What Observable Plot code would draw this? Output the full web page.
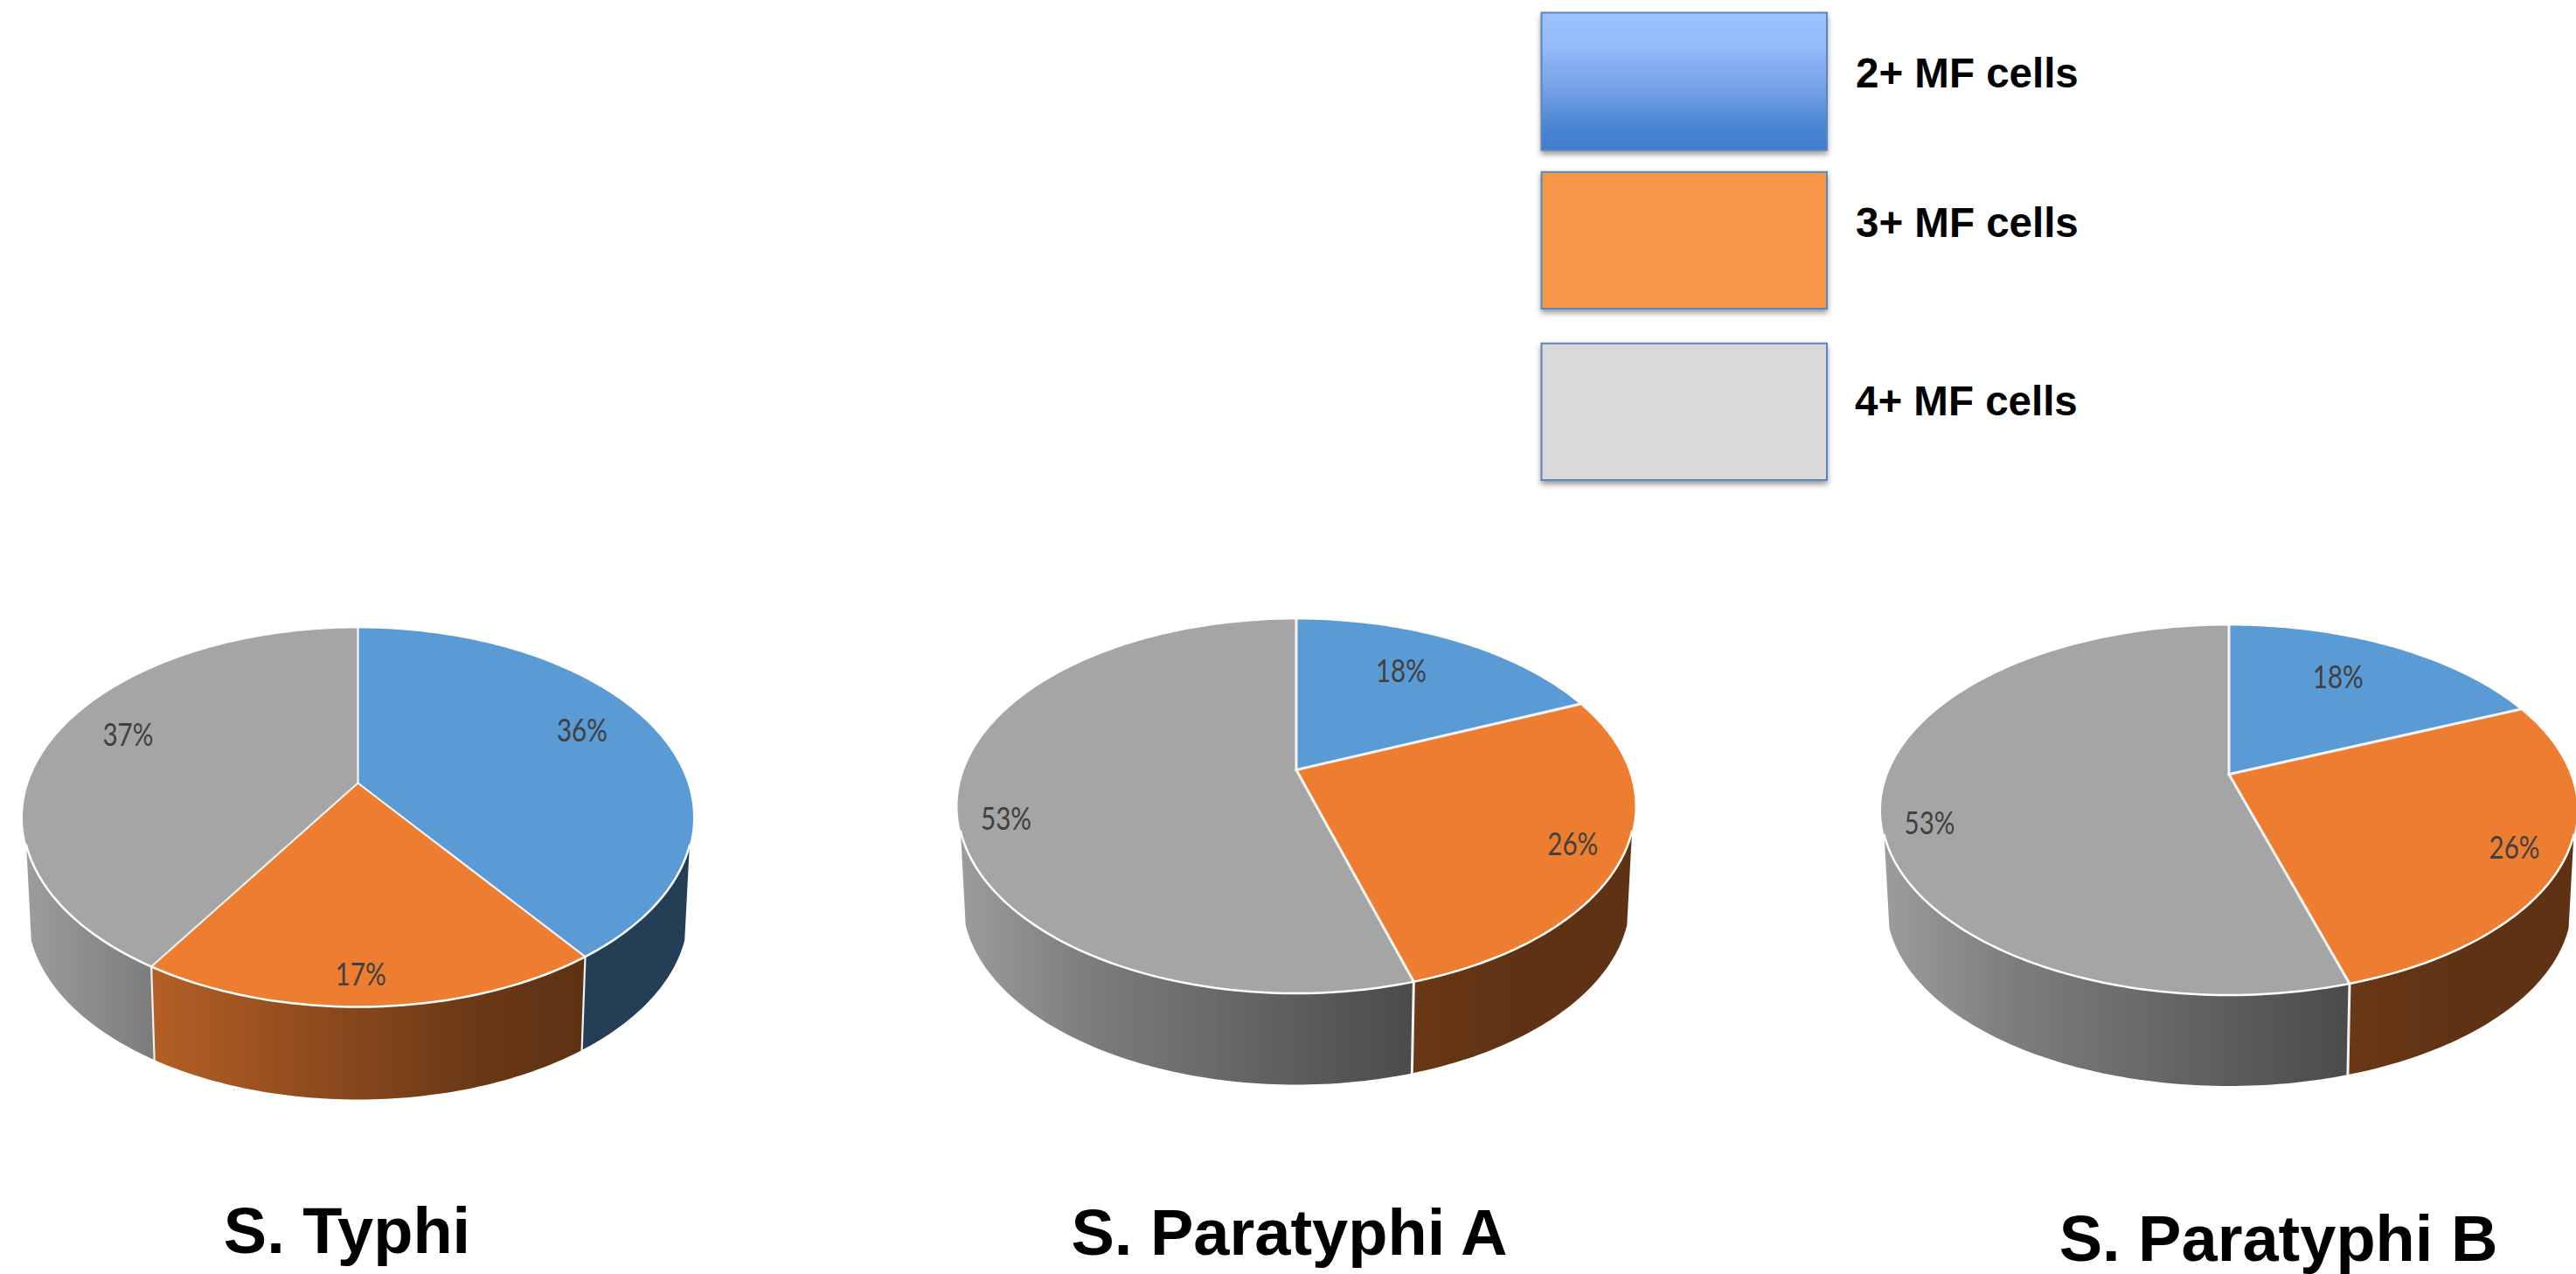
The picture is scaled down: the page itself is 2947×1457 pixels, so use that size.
<!DOCTYPE html>
<html>
<head>
<meta charset="utf-8">
<script src="https://cdn.jsdelivr.net/npm/d3@7"></script>
<script src="https://cdn.jsdelivr.net/npm/@observablehq/plot@0.6"></script>
<style>
  html, body { margin: 0; padding: 0; background: #fff; overflow: hidden; }
  svg { display: block; }
</style>
</head>
<body>
<script>
// Share of MF cell grades for each serovar, as printed on the slices
const categories = ["2+ MF cells", "3+ MF cells", "4+ MF cells"];
const serovars = ["S. Typhi", "S. Paratyphi A", "S. Paratyphi B"];
const typhi = [36, 17, 37];
const paratyphiA = [18, 26, 53];
const paratyphiB = [18, 26, 53];
const percentLabels = [["36%", "17%", "37%"], ["18%", "26%", "53%"], ["18%", "26%", "53%"]];

// Slice colours, one per grade
const sliceColors = ["#5B9BD5", "#ED7D31", "#A5A5A5"];
const swatchFills = ["url(#swatch-blue)", "#F79646", "#D9D9D9"];

const W = 2947, H = 1457;

// Drum geometry. Each disc is a tilted circle seen in perspective, so the
// hub (hubY) sits above the middle of the ellipse.
const drums = [
  {id: "typhi", values: typhi, cx: 409, hubY: 895, rx: 383.5, top: 718, bottom: 1151, base: 1257, seam: 2.2,
   nudges: [[-83, 0], [-13, -38], [82, -2]], titleX: 396.5, titleY: 1432.5},
  {id: "paraA", values: paratyphiA, cx: 1482.5, hubY: 880, rx: 387.5, top: 708, bottom: 1135.5, base: 1240, seam: 3,
   nudges: [[-60, 33], [-59, -11], [55, 24]], titleX: 1474.5, titleY: 1434},
  {id: "paraB", values: paratyphiB, cx: 2549.5, hubY: 885, rx: 398, top: 715, bottom: 1137.5, base: 1241.5, seam: 3,
   nudges: [[-60, 33], [-59, -11], [55, 24]], titleX: 2606, titleY: 1441}
];

// Legend rows
const legendBoxes = [
  {y1: 14.5, y2: 171.6, textY: 99, textX: 2122.5},
  {y1: 196.7, y2: 353, textY: 270, textX: 2122.5},
  {y1: 392.7, y2: 549, textY: 474.5, textX: 2121.5}
];

const pieLayout = d3.pie().sort(null).value(d => d).startAngle(0).endAngle(2 * Math.PI);

// The side wall shows from just past the disc's widest point round the front
const wallStart = Math.acos(-0.32), wallEnd = 2 * Math.PI - wallStart;

// Perspective mapping of the unit disc, angle measured clockwise from the back
function projector(d) {
  const up = d.hubY - d.top, down = d.bottom - d.hubY;
  const ratio = down / up;
  const k = (ratio - 1) / (ratio + 1);
  const B = up * (1 + k);
  const A = d.rx * Math.sqrt(1 - k * k);
  const shrink = 0.985;
  const baseHub = d.base - down * shrink;
  const top = t => {
    const u = Math.sin(t), v = -Math.cos(t), w = 1 - k * v;
    return {x: d.cx + A * u / w, y: d.hubY + B * v / w};
  };
  const low = t => {
    const p = top(t);
    return {x: d.cx + (p.x - d.cx) * shrink, y: baseHub + (p.y - d.hubY) * shrink};
  };
  return {top, low};
}

function arcAngles(a, b) {
  const n = Math.max(2, Math.ceil((b - a) / (Math.PI / 180)));
  return d3.range(n + 1).map(i => a + (b - a) * i / n);
}

const drumMarks = [];
const gradientSpecs = [];
const labelRows = [];

drums.forEach((d, di) => {
  const {top, low} = projector(d);
  const slices = pieLayout(d.values);
  const hub = {x: d.cx, y: d.hubY};

  // Side wall, cut slice by slice
  slices.forEach((s, i) => {
    const a = Math.max(s.startAngle, wallStart), b = Math.min(s.endAngle, wallEnd);
    if (b <= a) return;
    const angles = arcAngles(a, b);
    const outline = [...angles.map(top), ...angles.slice().reverse().map(low)];
    outline.push(outline[0]);
    const gid = `wall-${d.id}-${i}`;
    gradientSpecs.push({id: gid, x1: d.cx - d.rx, x2: d.cx + d.rx, color: sliceColors[i]});
    drumMarks.push(Plot.line(outline, {x: "x", y: "y", fill: `url(#${gid})`, stroke: "none"}));
  });

  // Pale seams where two slices meet on the wall
  slices.forEach(s => {
    if (s.endAngle > wallStart && s.endAngle < wallEnd) {
      drumMarks.push(Plot.line([top(s.endAngle), low(s.endAngle)], {x: "x", y: "y", stroke: "#f2f2f2", strokeWidth: d.seam}));
    }
  });

  // Top face: flat fills, then the white spokes and the front rim
  slices.forEach((s, i) => {
    const outline = [hub, ...arcAngles(s.startAngle, s.endAngle).map(top), hub];
    drumMarks.push(Plot.line(outline, {x: "x", y: "y", fill: sliceColors[i], stroke: "none"}));
    const mid = top((s.startAngle + s.endAngle) / 2);
    labelRows.push({x: mid.x + d.nudges[i][0], y: mid.y + d.nudges[i][1], text: percentLabels[di][i]});
  });
  slices.forEach(s => {
    drumMarks.push(Plot.line([hub, top(s.startAngle)], {x: "x", y: "y", stroke: "white", strokeOpacity: 0.9, strokeWidth: d.seam}));
  });
  drumMarks.push(Plot.line(arcAngles(wallStart, wallEnd).map(top), {x: "x", y: "y", stroke: "white", strokeWidth: 2.5}));
});

// Shading: brightness falls from left to right across the whole drum
function wallStops(hex) {
  const c = d3.rgb(hex);
  const stops = [[0, 0.95], [0.19, 0.76], [0.69, 0.44], [0.83, 0.4], [1, 0.4]];
  return stops.map(([o, f]) => [o, d3.rgb(c.r * f, c.g * f, c.b * f).formatHex()]);
}

function defsMark() {
  const defs = d3.create("svg:defs");
  for (const g of gradientSpecs) {
    const lg = defs.append("linearGradient").attr("id", g.id)
      .attr("gradientUnits", "userSpaceOnUse")
      .attr("x1", g.x1).attr("x2", g.x2).attr("y1", 0).attr("y2", 0);
    for (const [o, col] of wallStops(g.color)) lg.append("stop").attr("offset", o).attr("stop-color", col);
  }
  const sw = defs.append("linearGradient").attr("id", "swatch-blue").attr("x1", 0).attr("x2", 0).attr("y1", 0).attr("y2", 1);
  for (const [o, col] of [[0, "#9CC2FF"], [0.25, "#94BAF8"], [0.55, "#75A1E5"], [0.85, "#4784D1"], [1, "#3F7DCB"]]) {
    sw.append("stop").attr("offset", o).attr("stop-color", col);
  }
  return defs.node();
}

// Percent labels are set in a narrow width
function condensed(index, scales, values, dimensions, context, next) {
  const g = next(index, scales, values, dimensions, context);
  d3.select(g).selectAll("text").attr("textLength", 58).attr("lengthAdjust", "spacingAndGlyphs");
  return g;
}

const legendRows = categories.map((name, i) => ({name, fill: swatchFills[i], ...legendBoxes[i]}));
const titleRows = drums.map((d, i) => ({name: serovars[i], x: d.titleX, y: d.titleY}));

const chart = Plot.plot({
  width: W,
  height: H,
  margin: 0,
  x: {domain: [0, W], range: [0, W], axis: null},
  y: {domain: [0, H], range: [0, H], axis: null},
  style: {background: "white"},
  marks: [
    defsMark,
    Plot.rect(legendRows, {
      x1: () => 1763.5, x2: () => 2090, y1: "y1", y2: "y2", fill: "fill",
      stroke: "#5A86BF", strokeWidth: 2,
      imageFilter: "drop-shadow(0 4px 3px rgba(0,0,0,0.4))"
    }),
    Plot.text(legendRows, {
      x: "textX", y: "textY", text: "name", textAnchor: "start", lineAnchor: "bottom",
      fontFamily: "Liberation Sans, Arial, sans-serif", fontWeight: "bold", fontSize: 47.5, fill: "black"
    }),
    ...drumMarks,
    Plot.text(labelRows, {
      x: "x", y: "y", text: "text", dy: 2.5,
      fontFamily: "Lato, sans-serif", fontSize: 36, fill: "#404040",
      render: condensed
    }),
    Plot.text(titleRows, {
      x: "x", y: "y", text: "name", textAnchor: "middle", lineAnchor: "bottom",
      fontFamily: "Liberation Sans, Arial, sans-serif", fontWeight: "bold", fontSize: 74, fill: "black"
    })
  ]
});
document.body.append(chart);
</script>
</body>
</html>
